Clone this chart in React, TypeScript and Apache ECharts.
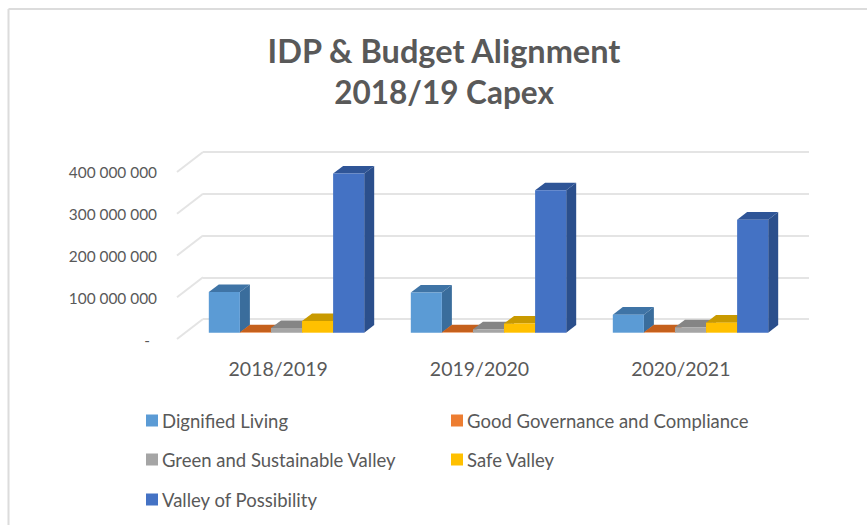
import React, { useEffect, useRef } from "react";
import * as echarts from "echarts";

const categories = ["2018/2019", "2019/2020", "2020/2021"];
const dignifiedLiving = [97000000, 96000000, 43000000];
const goodGovernance = [1000000, 1000000, 1000000];
const greenSustainable = [11000000, 8000000, 13000000];
const safeValley = [28000000, 22000000, 24000000];
const valleyOfPossibility = [380000000, 340000000, 270000000];
const wallTicks = [0, 100000000, 200000000, 300000000, 400000000];

const titleLines = ["IDP & Budget Alignment", "2018/19 Capex"];
const titleSizes = [32.5, 31.5];
const FONT = "Lato, 'Open Sans', sans-serif";
const TEXT = "#595959";

const seriesDefs = [
  { name: "Dignified Living", values: dignifiedLiving, front: "#5B9BD5", side: "#3A6D9C", top: "#3F74A6", left: 146, top0: 415 },
  { name: "Good Governance and Compliance", values: goodGovernance, front: "#ED7D31", side: "#B85F22", top: "#C5601C", left: 451, top0: 415 },
  { name: "Green and Sustainable Valley", values: greenSustainable, front: "#A5A5A5", side: "#7C7C7C", top: "#858585", left: 146, top0: 454 },
  { name: "Safe Valley", values: safeValley, front: "#FFC000", side: "#BF9000", top: "#C99A00", left: 451, top0: 454 },
  { name: "Valley of Possibility", values: valleyOfPossibility, front: "#4472C4", side: "#2B4F8C", top: "#2F5597", left: 146, top0: 494 },
];

const DEPTH_X = 10;
const DEPTH_Y = 7.6;

function barRenderer(index: number, def: (typeof seriesDefs)[number]) {
  return (_params: any, api: any) => {
    const cat = api.value(0);
    const val = api.value(1);
    const top = api.coord([cat, val]);
    const base = api.coord([cat, 0]);
    const band = api.size([1, 0])[0];
    const w = band / 6.5;
    const x = top[0] + (index - 2.5) * w;
    const yT = top[1];
    const yB = base[1];
    return {
      type: "group",
      children: [
        {
          type: "polygon",
          shape: { points: [[x + w, yT], [x + w + DEPTH_X, yT - DEPTH_Y], [x + w + DEPTH_X, yB - DEPTH_Y], [x + w, yB]] },
          style: { fill: def.side },
        },
        {
          type: "polygon",
          shape: { points: [[x, yT], [x + DEPTH_X, yT - DEPTH_Y], [x + w + DEPTH_X, yT - DEPTH_Y], [x + w, yT]] },
          style: { fill: def.top },
        },
        {
          type: "rect",
          shape: { x, y: yT, width: w, height: yB - yT },
          style: { fill: def.front },
        },
      ],
    };
  };
}

function fmt(v: number) {
  if (v === 0) return "{dash|-}";
  return String(v).replace(/\B(?=(\d{3})+(?!\d))/g, " ");
}

export default function App() {
  const ref = useRef<HTMLDivElement>(null);
  useEffect(() => {
    document.body.style.margin = "0";
    const chart = echarts.init(ref.current!, undefined, { renderer: "svg" });
    chart.setOption({
      animation: false,
      backgroundColor: "#ffffff",
      textStyle: { fontFamily: FONT },
      grid: [
        { left: 203, top: 152, width: 606, height: 167 },
        { left: 177.5, top: 172, width: 604, height: 168 },
        { left: 185.5, top: 165.2, width: 606, height: 167.5 },
      ],
      xAxis: [
        { gridIndex: 0, type: "category", data: categories, show: false },
        {
          gridIndex: 1,
          type: "category",
          data: categories,
          axisLine: { show: false },
          axisTick: { show: false },
          axisLabel: { fontSize: 19.5, color: TEXT, fontFamily: FONT, margin: 18 },
        },
        { gridIndex: 2, type: "category", data: categories, show: false },
      ],
      yAxis: [
        {
          gridIndex: 0,
          type: "value",
          min: 0,
          max: 400000000,
          interval: 100000000,
          axisLine: { show: false },
          axisTick: { show: false },
          axisLabel: { show: false },
          splitLine: { show: true, lineStyle: { color: "#e4e4e4", width: 2 } },
        },
        {
          gridIndex: 1,
          type: "value",
          min: 0,
          max: 400000000,
          interval: 100000000,
          axisLine: { show: false },
          axisTick: { show: false },
          splitLine: { show: false },
          axisLabel: {
            fontSize: 15.4,
            color: TEXT,
            fontFamily: FONT,
            margin: 20.5,
            formatter: fmt,
            rich: { dash: { fontSize: 15.4, color: TEXT, fontFamily: FONT, padding: [0, 7, 0, 0] } },
          },
        },
        { gridIndex: 2, type: "value", min: 0, max: 400000000, interval: 100000000, show: false },
      ],
      legend: seriesDefs.map((d) => ({
        data: [d.name],
        left: d.left,
        top: d.top0 - 4,
        padding: 0,
        itemWidth: 12,
        itemHeight: 12,
        itemGap: 0,
        icon: "rect",
        selectedMode: false,
        textStyle: { fontSize: 18.5, color: TEXT, fontFamily: FONT, padding: [0, 0, 0, -1] },
      })),
      title: titleLines.map((t, i) => ({
        text: t,
        left: 444,
        textAlign: "center",
        top: 34 + i * 42,
        padding: 0,
        textStyle: { fontSize: titleSizes[i], fontWeight: "bold", color: TEXT, fontFamily: FONT },
      })),
      graphic: [
        { type: "line", shape: { x1: 8.5, y1: 9, x2: 867, y2: 9 }, style: { stroke: "#dcdcdc", lineWidth: 2 }, silent: true },
        { type: "line", shape: { x1: 8.5, y1: 9, x2: 8.5, y2: 525 }, style: { stroke: "#dcdcdc", lineWidth: 2 }, silent: true },
      ],
      series: [
        {
          type: "custom",
          name: "wall",
          xAxisIndex: 0,
          yAxisIndex: 0,
          silent: true,
          data: wallTicks.map((v) => [0, v]),
          renderItem: (_p: any, api: any) => {
            const band = api.size([1, 0])[0];
            const c = api.coord([0, api.value(1)]);
            const x = c[0] - band / 2;
            return {
              type: "line",
              shape: { x1: x, y1: c[1], x2: x - 26, y2: c[1] + 20 },
              style: { stroke: "#e4e4e4", lineWidth: 2 },
            };
          },
        },
        ...seriesDefs.map((d, i) => ({
          type: "custom",
          name: d.name,
          xAxisIndex: 2,
          yAxisIndex: 2,
          silent: true,
          z: 5,
          itemStyle: { color: d.front },
          encode: { x: 0, y: 1 },
          data: d.values.map((v, k) => [k, v]),
          renderItem: barRenderer(i, d),
        })),
      ],
    });
    return () => chart.dispose();
  }, []);
  return <div ref={ref} style={{ width: 867, height: 525 }} />;
}
